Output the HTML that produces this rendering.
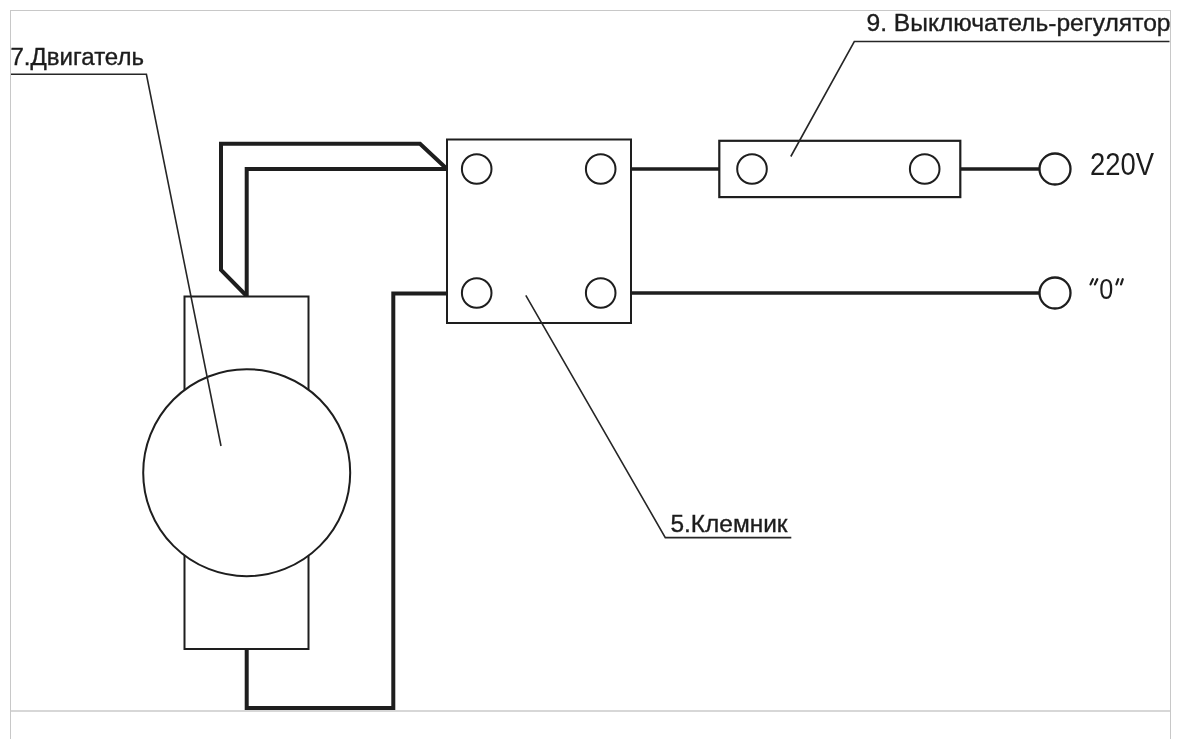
<!DOCTYPE html>
<html><head><meta charset="utf-8">
<style>
html,body{margin:0;padding:0;background:#fff;width:1200px;height:739px;overflow:hidden}
svg{display:block}
text{font-family:"Liberation Sans",sans-serif;fill:#1c1c1c;stroke:#1c1c1c;stroke-width:0.35}
svg{will-change:transform}
</style></head>
<body>
<svg width="1200" height="739" viewBox="0 0 1200 739">
<rect x="0" y="0" width="1200" height="739" fill="#fff"/>
<!-- frame -->
<g stroke="#c8c8c8" stroke-width="1" fill="none" shape-rendering="crispEdges">
<path d="M10.5 739 V10.5 H1170.5 V739"/>
</g>
<path d="M10.5 710.9 H1170" stroke="#cacaca" stroke-width="1.5" fill="none"/>

<!-- thick wires -->
<g stroke="#1e1e1e" stroke-width="4" fill="none" stroke-linejoin="miter">
<path d="M246.7 296 L221 270 V143.8 H420 L447 169"/>
<path d="M246.7 296 V169 H447"/>
<path d="M246.7 649 V708 H393.3 V293.5 H447"/>
</g>
<g stroke="#1e1e1e" stroke-width="3.5" fill="none">
<path d="M631 169 H719"/>
<path d="M960 169 H1039"/>
<path d="M631 293 H1039"/>
</g>

<!-- motor -->
<rect x="184.5" y="296.5" width="124" height="352.5" fill="#fff" stroke="#1e1e1e" stroke-width="2"/>
<circle cx="246.7" cy="472.7" r="103.5" fill="#fff" stroke="#1e1e1e" stroke-width="2"/>

<!-- terminal block -->
<rect x="447" y="139.5" width="184" height="183.5" fill="#fff" stroke="#1e1e1e" stroke-width="2"/>
<g fill="none" stroke="#1e1e1e" stroke-width="2">
<circle cx="476.7" cy="169" r="14.8"/>
<circle cx="600.7" cy="169" r="14.8"/>
<circle cx="476.7" cy="293" r="14.8"/>
<circle cx="600.7" cy="293" r="14.8"/>
</g>

<!-- switch -->
<rect x="719.3" y="140.8" width="241" height="56.3" fill="#fff" stroke="#1e1e1e" stroke-width="2.2"/>
<g fill="none" stroke="#1e1e1e" stroke-width="2">
<circle cx="752" cy="169" r="14.8"/>
<circle cx="924.7" cy="169" r="14.8"/>
</g>

<!-- terminals -->
<g fill="#fff" stroke="#1e1e1e" stroke-width="2.3">
<circle cx="1055" cy="169" r="15.5"/>
<circle cx="1055" cy="293" r="15.5"/>
</g>

<!-- leader lines -->
<g stroke="#262626" stroke-width="1.6" fill="none">
<path d="M11 74.3 H146.4 L221 446"/>
<path d="M1169.5 41.5 H854.3 L790.8 156.5"/>
<path d="M791.3 537.6 H665.3 L525.8 295.3"/>
</g>

<!-- labels -->
<text x="10.5" y="64.8" font-size="23" textLength="133.5" lengthAdjust="spacingAndGlyphs">7.Двигатель</text>
<text x="866.5" y="31" font-size="24.3" textLength="304" lengthAdjust="spacingAndGlyphs">9. Выключатель-регулятор</text>
<text x="670.5" y="532" font-size="24.7" textLength="117" lengthAdjust="spacingAndGlyphs">5.Клемник</text>
<text x="1090" y="174.7" font-size="32" textLength="64" lengthAdjust="spacingAndGlyphs" style="stroke-width:0">220V</text>
<text transform="translate(1099.3 299) scale(0.87 1)" font-size="29" style="stroke-width:0">0</text>
<g stroke="#1e1e1e" stroke-width="2.2" stroke-linecap="round">
<path d="M1090.5 284.4 L1092.9 279.2 M1094.9 284.4 L1097.3 279.2 M1116.4 284.4 L1118.3 279.2 M1121 284.4 L1122.8 279.2"/>
</g>
</svg>
</body></html>
